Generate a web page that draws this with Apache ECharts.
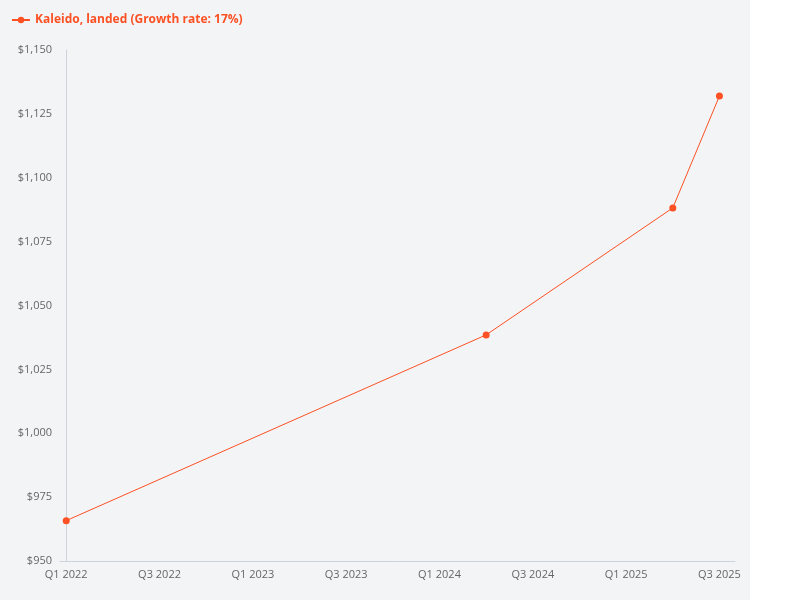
<!DOCTYPE html>
<html><head><meta charset="utf-8">
<script src="https://cdn.jsdelivr.net/npm/echarts@6/dist/echarts.min.js"></script>
<style>html,body{margin:0;padding:0;background:#fff}#c{width:800px;height:600px}</style>
</head><body><div id="c"></div>
<script>
const seriesName = 'Kaleido, landed (Growth rate: 17%)';
const dates = ['2022-01', '2024-04', '2025-04', '2025-07'];
const values = [965.8, 1038.5, 1088.2, 1132];
const tickLabels = ['Q1 2022','Q3 2022','Q1 2023','Q3 2023','Q1 2024','Q3 2024','Q1 2025','Q3 2025'];
function monthIdx(s){const [y,m]=s.split('-').map(Number);return (y-2022)*12+(m-1);}
const chart = echarts.init(document.getElementById('c'));
chart.setOption({
  backgroundColor:'#fff',
  graphic:[{type:'rect',shape:{x:0,y:0,width:750,height:600},style:{fill:'#f3f4f6'},z:-10,silent:true}],
  legend:{left:6,top:9,itemWidth:18,itemHeight:8,textStyle:{color:'#fc5124',fontWeight:'bold',fontSize:12,fontFamily:'Open Sans'},data:[seriesName]},
  grid:{left:60,right:65,top:50,bottom:39},
  xAxis:{type:'value',min:-0.4,max:43,interval:6,
    axisLine:{lineStyle:{color:'#ccd3dc'}},axisTick:{show:false},splitLine:{show:false},
    axisLabel:{color:'#666',fontSize:11,fontFamily:'Open Sans',showMinLabel:true,
      customValues:tickLabels.map((_,i)=>i*6),
      formatter:v=>tickLabels[Math.round(v/6)]||''}},
  yAxis:{type:'value',min:950,max:1150,interval:25,
    axisLine:{show:true,lineStyle:{color:'#ccd3dc'}},axisTick:{show:false},splitLine:{show:false},
    axisLabel:{color:'#666',fontSize:11,fontFamily:'Open Sans',formatter:v=>'$'+v.toLocaleString('en-US')}},
  series:[{name:seriesName,type:'line',data:dates.map((d,i)=>[monthIdx(d),values[i]]),
    symbol:'circle',symbolSize:7,itemStyle:{color:'#fc5124'},lineStyle:{width:1,color:'#fc5124'}}]
});
</script></body></html>
